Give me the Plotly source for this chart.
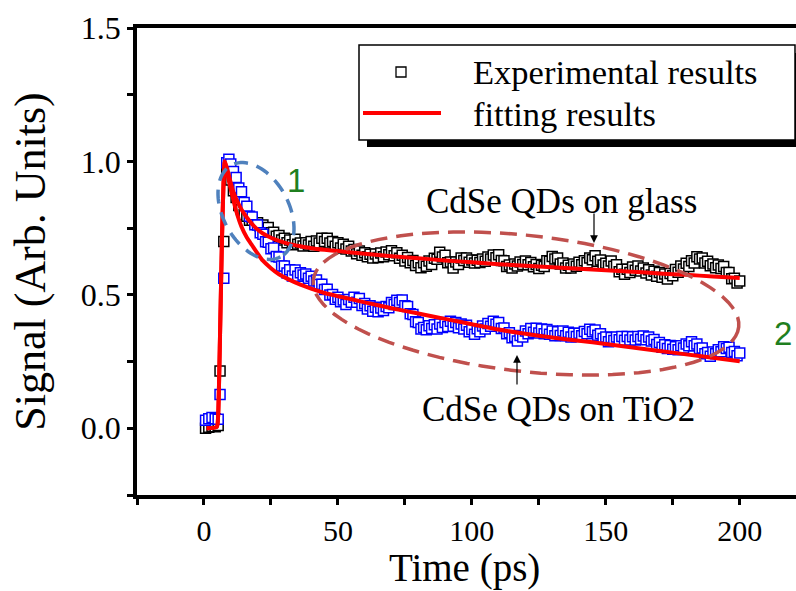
import plotly.graph_objects as go
import numpy as np

# ---------------- data ----------------
time_early = [0.6, 1.8, 3.0, 4.2, 5.3, 6.0, 7.4, 8.5, 9.3]
glass_early = [0.0, 0.004, 0.008, 0.006, 0.01, 0.215, 0.70, 0.965, 0.975]
tio2_early = [0.03, 0.036, 0.04, 0.036, 0.034, 0.127, 0.562, 0.995, 1.008]

time_main = list(range(10, 201))
glass_main = [
    0.93, 0.89, 0.865, 0.835, 0.82, 0.80, 0.795, 0.78, 0.78, 0.768,
    0.77, 0.758, 0.762, 0.745, 0.752, 0.733, 0.735, 0.72, 0.722, 0.706,
    0.712, 0.695, 0.706, 0.688, 0.708, 0.69, 0.694, 0.683, 0.695, 0.687,
    0.70, 0.682, 0.702, 0.694, 0.712, 0.70, 0.712, 0.694, 0.70, 0.682,
    0.695, 0.676, 0.69, 0.672, 0.682, 0.664, 0.67, 0.654, 0.664, 0.648,
    0.658, 0.643, 0.652, 0.638, 0.653, 0.64, 0.657, 0.643, 0.661, 0.65,
    0.665, 0.647, 0.658, 0.637, 0.648, 0.627, 0.64, 0.62, 0.629, 0.61,
    0.62, 0.602, 0.62, 0.607, 0.627, 0.614, 0.637, 0.633, 0.66, 0.642,
    0.648, 0.62, 0.623, 0.601, 0.623, 0.614, 0.638, 0.629, 0.638, 0.622,
    0.631, 0.619, 0.63, 0.621, 0.634, 0.626, 0.642, 0.634, 0.649, 0.639,
    0.65, 0.629, 0.628, 0.606, 0.612, 0.601, 0.616, 0.608, 0.623, 0.614,
    0.627, 0.613, 0.621, 0.605, 0.614, 0.599, 0.611, 0.606, 0.628, 0.626,
    0.644, 0.634, 0.638, 0.616, 0.619, 0.601, 0.611, 0.601, 0.616, 0.607,
    0.622, 0.613, 0.628, 0.62, 0.638, 0.632, 0.647, 0.626, 0.631, 0.612,
    0.618, 0.608, 0.627, 0.607, 0.613, 0.587, 0.596, 0.577, 0.596, 0.584,
    0.604, 0.592, 0.608, 0.589, 0.601, 0.582, 0.594, 0.574, 0.588, 0.57,
    0.584, 0.566, 0.578, 0.559, 0.58, 0.572, 0.595, 0.585, 0.608, 0.597,
    0.618, 0.606, 0.628, 0.619, 0.643, 0.634, 0.638, 0.619, 0.626, 0.609,
    0.616, 0.602, 0.612, 0.599, 0.606, 0.584, 0.584, 0.56, 0.562, 0.544,
    0.552,
]
tio2_main = [
    0.99, 0.962, 0.94, 0.9, 0.886, 0.846, 0.832, 0.795, 0.792, 0.763,
    0.762, 0.733, 0.727, 0.699, 0.697, 0.673, 0.676, 0.644, 0.642, 0.608,
    0.608, 0.582, 0.594, 0.571, 0.593, 0.57, 0.583, 0.574, 0.578, 0.562,
    0.57, 0.552, 0.556, 0.539, 0.54, 0.52, 0.521, 0.499, 0.501, 0.484,
    0.491, 0.474, 0.481, 0.464, 0.483, 0.472, 0.491, 0.472, 0.486, 0.46,
    0.468, 0.447, 0.459, 0.439, 0.454, 0.437, 0.451, 0.441, 0.456, 0.452,
    0.471, 0.464, 0.48, 0.471, 0.481, 0.459, 0.456, 0.429, 0.426, 0.399,
    0.396, 0.372, 0.378, 0.369, 0.384, 0.374, 0.388, 0.372, 0.391, 0.378,
    0.396, 0.381, 0.401, 0.382, 0.396, 0.377, 0.391, 0.372, 0.386, 0.362,
    0.37, 0.352, 0.373, 0.362, 0.383, 0.372, 0.393, 0.382, 0.401, 0.39,
    0.396, 0.374, 0.376, 0.354, 0.358, 0.339, 0.344, 0.327, 0.348, 0.342,
    0.365, 0.354, 0.374, 0.36, 0.375, 0.357, 0.372, 0.354, 0.37, 0.352,
    0.365, 0.347, 0.362, 0.348, 0.365, 0.347, 0.36, 0.342, 0.356, 0.344,
    0.356, 0.347, 0.363, 0.354, 0.371, 0.362, 0.368, 0.349, 0.354, 0.336,
    0.342, 0.324, 0.34, 0.329, 0.342, 0.332, 0.344, 0.33, 0.344, 0.331,
    0.343, 0.331, 0.344, 0.334, 0.346, 0.332, 0.342, 0.327, 0.333, 0.314,
    0.321, 0.304, 0.313, 0.299, 0.31, 0.296, 0.306, 0.294, 0.309, 0.301,
    0.316, 0.309, 0.324, 0.309, 0.316, 0.299, 0.301, 0.279, 0.284, 0.27,
    0.286, 0.279, 0.294, 0.287, 0.306, 0.299, 0.304, 0.284, 0.288, 0.272,
    0.282,
]

fit_time = [1.0, 4.8, 5.3, 6.0, 6.7, 7.3, 7.8, 9, 10, 11, 12, 14, 16, 18, 20, 22,
            25, 28, 32, 36, 40, 45, 50, 60, 70, 80, 90, 100, 110, 120, 130, 140,
            150, 160, 170, 180, 190, 200]
fit_glass = [0.0, 0.005, 0.05, 0.35, 0.7, 0.92, 1.0, 0.96, 0.92, 0.885, 0.86, 0.82,
             0.79, 0.765, 0.745, 0.73, 0.714, 0.702, 0.69, 0.682, 0.675, 0.669,
             0.664, 0.654, 0.645, 0.637, 0.629, 0.622, 0.615, 0.609, 0.603, 0.598,
             0.592, 0.587, 0.58, 0.575, 0.569, 0.563]
fit_tio2 = [0.0, 0.005, 0.05, 0.35, 0.7, 0.92, 1.0, 0.94, 0.895, 0.855, 0.815, 0.755,
            0.715, 0.685, 0.655, 0.628, 0.6, 0.577, 0.556, 0.538, 0.523, 0.507,
            0.495, 0.472, 0.45, 0.43, 0.41, 0.39, 0.37, 0.354, 0.34, 0.328, 0.316,
            0.303, 0.29, 0.277, 0.264, 0.251]

x_tickvals = [0, 50, 100, 150, 200]
y_tickvals = [0.0, 0.5, 1.0, 1.5]

x_title = "Time (ps)"
y_title = "Signal (Arb. Units)"
legend_labels = ["Experimental results", "fitting results"]
label_glass = "CdSe QDs on glass"
label_tio2 = "CdSe QDs on TiO2"

# ---------------- layout geometry ----------------
W, H = 796, 591
ML, MR, MT, MB = 137, 0, 28, 96
X_RANGE = [-25, 221]
Y_RANGE = [-0.25, 1.5]
PW, PH = W - ML - MR, H - MT - MB
SERIF = '"Liberation Serif", "Times New Roman", serif'
SANS = '"Liberation Sans", Arial, sans-serif'


def px2data(px, py):
    t = X_RANGE[0] + (px - ML) / PW * (X_RANGE[1] - X_RANGE[0])
    s = Y_RANGE[1] - (py - MT) / PH * (Y_RANGE[1] - Y_RANGE[0])
    return t, s


def px2paper(px, py):
    return (px - ML) / PW, 1 - (py - MT) / PH


def ellipse_path(cx, cy, a, b, theta_deg, n=90):
    th = np.radians(theta_deg)
    pts = []
    for u in np.linspace(0, 2 * np.pi, n, endpoint=False):
        px = cx + a * np.cos(u) * np.cos(th) - b * np.sin(u) * np.sin(th)
        py = cy + a * np.cos(u) * np.sin(th) + b * np.sin(u) * np.cos(th)
        pts.append(px2data(px, py))
    return "M " + " L ".join(f"{x:.3f},{y:.4f}" for x, y in pts) + " Z"


fig = go.Figure()

glass_t = time_early + time_main
glass_v = glass_early + glass_main
tio2_v = tio2_early + tio2_main

fig.add_trace(go.Scatter(
    x=glass_t, y=glass_v, mode="markers", name=legend_labels[0],
    marker=dict(symbol="square", size=10, color="white",
                line=dict(color="black", width=1.5)),
    showlegend=False))
fig.add_trace(go.Scatter(
    x=glass_t, y=tio2_v, mode="markers", name="TiO2",
    marker=dict(symbol="square", size=10, color="white",
                line=dict(color="#0000ff", width=1.5)),
    showlegend=False))
fig.add_trace(go.Scatter(
    x=fit_time, y=fit_glass, mode="lines", name=legend_labels[1],
    line=dict(color="#ff0000", width=4, shape="spline", smoothing=0.5),
    showlegend=False))
fig.add_trace(go.Scatter(
    x=fit_time, y=fit_tio2, mode="lines", name="fit TiO2",
    line=dict(color="#ff0000", width=4, shape="spline", smoothing=0.5),
    showlegend=False))

shapes = []
# dashed ellipses
shapes.append(dict(type="path", xref="x", yref="y",
                   path=ellipse_path(256, 211, 52, 33, 62),
                   line=dict(color="#4f81bd", width=3.5, dash="14px,9px")))
shapes.append(dict(type="path", xref="x", yref="y",
                   path=ellipse_path(526, 303.5, 214, 68, 6.3),
                   line=dict(color="#c0504d", width=3.5, dash="17px,9px")))

# manual legend box with drop shadow
sx0, sy0 = px2paper(367, 53)
sx1, sy1 = px2paper(806, 147)
shapes.append(dict(type="rect", xref="paper", yref="paper", x0=sx0, y0=sy1, x1=sx1, y1=sy0,
                   fillcolor="black", line=dict(width=0), layer="above"))
bx0, by0 = px2paper(359, 45)
bx1, by1 = px2paper(795, 140)
shapes.append(dict(type="rect", xref="paper", yref="paper", x0=bx0, y0=by1, x1=bx1, y1=by0,
                   fillcolor="white", line=dict(color="black", width=1.5), layer="above"))
mx0, my0 = px2paper(396, 67)
mx1, my1 = px2paper(406, 77)
shapes.append(dict(type="rect", xref="paper", yref="paper", x0=mx0, y0=my1, x1=mx1, y1=my0,
                   fillcolor="white", line=dict(color="black", width=1.3), layer="above"))
lx0, ly = px2paper(363, 113)
lx1, _ = px2paper(441, 113)
shapes.append(dict(type="line", xref="paper", yref="paper", x0=lx0, y0=ly, x1=lx1, y1=ly,
                   line=dict(color="#ff0000", width=4), layer="above"))

annotations = []
tx, ty = px2paper(471, 72)
annotations.append(dict(xref="paper", yref="paper", x=tx, y=ty, xanchor="left", yanchor="middle",
                        text=legend_labels[0], showarrow=False,
                        font=dict(family=SERIF, size=34.5, color="black")))
tx, ty = px2paper(471, 114)
annotations.append(dict(xref="paper", yref="paper", x=tx, y=ty, xanchor="left", yanchor="middle",
                        text=legend_labels[1], showarrow=False,
                        font=dict(family=SERIF, size=34.5, color="black")))

# x-axis title (paper annotation so it sits low like the reference, inside the canvas)
xtx, xty = px2paper(464, 591.5)
annotations.append(dict(xref="paper", yref="paper", x=xtx, y=xty, xanchor="center",
                        yanchor="bottom", text=x_title, showarrow=False,
                        font=dict(family=SERIF, size=39, color="black")))

# curve labels
gx, gy = px2data(561, 201)
annotations.append(dict(x=gx, y=gy, text=label_glass, showarrow=False,
                        font=dict(family=SERIF, size=35, color="black")))
tx2, ty2 = px2data(558, 409)
annotations.append(dict(x=tx2, y=ty2, text=label_tio2, showarrow=False,
                        font=dict(family=SERIF, size=35, color="black")))
# arrows
ax_, ay_ = px2data(594, 243)
annotations.append(dict(x=ax_, y=ay_, ax=0, ay=-31, text="", showarrow=True,
                        arrowhead=2, arrowsize=1.3, arrowwidth=1.2, arrowcolor="black"))
ax_, ay_ = px2data(517, 355)
annotations.append(dict(x=ax_, y=ay_, ax=0, ay=31, text="", showarrow=True,
                        arrowhead=2, arrowsize=1.3, arrowwidth=1.2, arrowcolor="black"))
# region numbers
n1x, n1y = px2data(296, 180)
annotations.append(dict(x=n1x, y=n1y, text="1", showarrow=False,
                        font=dict(family=SANS, size=33, color="#1f7f1f")))
n2x, n2y = px2data(783, 333)
annotations.append(dict(x=n2x, y=n2y, text="2", showarrow=False,
                        font=dict(family=SANS, size=33, color="#1f7f1f")))

fig.update_layout(
    width=W, height=H,
    margin=dict(l=ML, r=MR, t=MT, b=MB, autoexpand=False),
    paper_bgcolor="white", plot_bgcolor="white",
    showlegend=False,
    shapes=shapes, annotations=annotations,
    font=dict(family=SERIF, color="black"),
)
fig.update_xaxes(
    range=X_RANGE, tickvals=x_tickvals, ticks="outside", ticklen=6, tickwidth=3,
    tickcolor="black", showline=True, linewidth=3.5, linecolor="black", mirror=True,
    showgrid=False, zeroline=False,
    minor=dict(tickvals=[-25, 25, 75, 125, 175], ticks="outside", ticklen=6, tickwidth=3,
               tickcolor="black"),
    tickfont=dict(family=SERIF, size=30, color="black"),
)
fig.update_yaxes(
    range=Y_RANGE, tickvals=y_tickvals, tickformat=".1f", ticks="outside", ticklen=6,
    tickwidth=3, tickcolor="black", showline=True, linewidth=3.5, linecolor="black",
    mirror=False, showgrid=False, zeroline=False,
    minor=dict(tickvals=[-0.25, 0.25, 0.75, 1.25], ticks="outside", ticklen=6, tickwidth=3,
               tickcolor="black"),
    tickfont=dict(family=SERIF, size=32, color="black"),
    title=dict(text=y_title, font=dict(family=SERIF, size=44, color="black"),
               standoff=22),
)

fig.write_html("out.html")
